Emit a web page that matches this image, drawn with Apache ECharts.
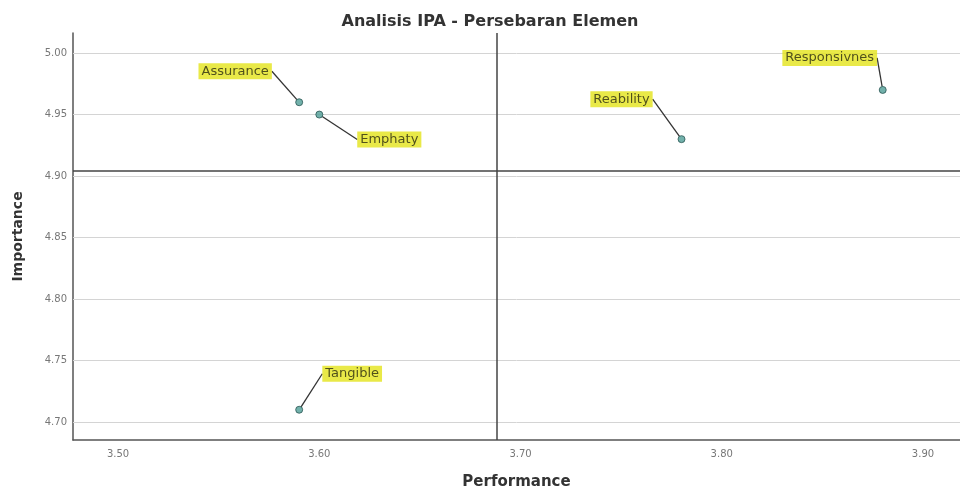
<!DOCTYPE html>
<html>
<head>
<meta charset="utf-8">
<title>Analisis IPA</title>
<script src="https://cdn.jsdelivr.net/npm/echarts@6/dist/echarts.min.js"></script>
<style>
  html, body { margin: 0; padding: 0; background: #fff; }
  #main { width: 960px; height: 490px; }
</style>
</head>
<body>
<div id="main"></div>
<script>
// data
const elements = ['Assurance', 'Emphaty', 'Reability', 'Responsivnes', 'Tangible']
const performance = [3.59, 3.60, 3.78, 3.88, 3.59]
const importance = [4.96, 4.95, 4.93, 4.97, 4.71]
const xTicks = [3.50, 3.60, 3.70, 3.80, 3.90]
const yTicks = [4.70, 4.75, 4.80, 4.85, 4.90, 4.95, 5.00]
const meanPerformance = 3.688
const meanImportance = 4.904

// where each label box sits relative to its point (px)
const labelOffsets = [[-64, -31], [70, 25], [-60, -40], [-53, -32], [53, -36]]

const chart = echarts.init(document.getElementById('main'))

const points = elements.map((name, i) => ({ name: name, value: [performance[i], importance[i]] }))

const gridLines = yTicks.map(v => ({
  yAxis: v,
  lineStyle: { color: '#d4d4d4', width: 1, type: 'solid' }
}))

const option = {
  animation: false,
  title: {
    text: 'Analisis IPA - Persebaran Elemen',
    left: 485,
    top: 9,
    textAlign: 'center',
    textStyle: { fontFamily: 'DejaVu Sans', fontSize: 16, fontWeight: 'bold', color: '#333' }
  },
  grid: { left: 73, top: 33, right: 0, bottom: 50, outerBoundsMode: 'none' },
  xAxis: {
    type: 'value',
    min: 3.4776,
    max: 3.9184,
    name: 'Performance',
    nameLocation: 'middle',
    nameGap: 35,
    nameTextStyle: { fontFamily: 'DejaVu Sans', fontSize: 15, fontWeight: 'bold', color: '#333' },
    axisLine: { show: true, lineStyle: { color: '#555', width: 1.5 } },
    axisTick: { show: false },
    splitLine: { show: false },
    axisLabel: {
      customValues: xTicks,
      margin: 9,
      fontFamily: 'DejaVu Sans',
      fontSize: 10,
      color: '#777',
      formatter: v => v.toFixed(2)
    }
  },
  yAxis: {
    type: 'value',
    min: 4.6854,
    max: 5.0163,
    name: 'Importance',
    nameLocation: 'middle',
    nameGap: 48,
    nameRotate: 90,
    nameTextStyle: { fontFamily: 'DejaVu Sans', fontSize: 14, fontWeight: 'bold', color: '#333' },
    axisLine: { show: true, lineStyle: { color: '#555', width: 1.5 } },
    axisTick: { show: false },
    splitLine: { show: false },
    axisLabel: {
      customValues: yTicks,
      margin: 6,
      fontFamily: 'DejaVu Sans',
      fontSize: 10,
      color: '#777',
      formatter: v => v.toFixed(2)
    }
  },
  series: [
    {
      type: 'scatter',
      data: points,
      symbol: 'circle',
      symbolSize: 7,
      z: 5,
      itemStyle: { color: '#4f9d96', borderColor: '#2a5654', borderWidth: 1 },
      label: {
        show: true,
        formatter: '{b}',
        fontFamily: 'DejaVu Sans',
        fontSize: 13,
        color: '#2b2b10',
        backgroundColor: '#e3e31a',
        padding: [2, 3, 1, 3]
      },
      labelLayout: params => {
        const o = labelOffsets[params.dataIndex]
        return {
          x: params.rect.x + params.rect.width / 2 + o[0],
          y: params.rect.y + params.rect.height / 2 + o[1],
          align: 'center',
          verticalAlign: 'middle'
        }
      },
      labelLine: {
        show: true,
        lineStyle: { color: '#333', width: 1.3 }
      },
      markLine: {
        silent: true,
        symbol: 'none',
        precision: 4,
        label: { show: false },
        animation: false,
        data: gridLines.concat([
          { yAxis: meanImportance, lineStyle: { color: '#444', width: 1.5, type: 'solid' } },
          { xAxis: meanPerformance, lineStyle: { color: '#444', width: 1.5, type: 'solid' } }
        ])
      }
    }
  ]
}

chart.setOption(option)
</script>
</body>
</html>
